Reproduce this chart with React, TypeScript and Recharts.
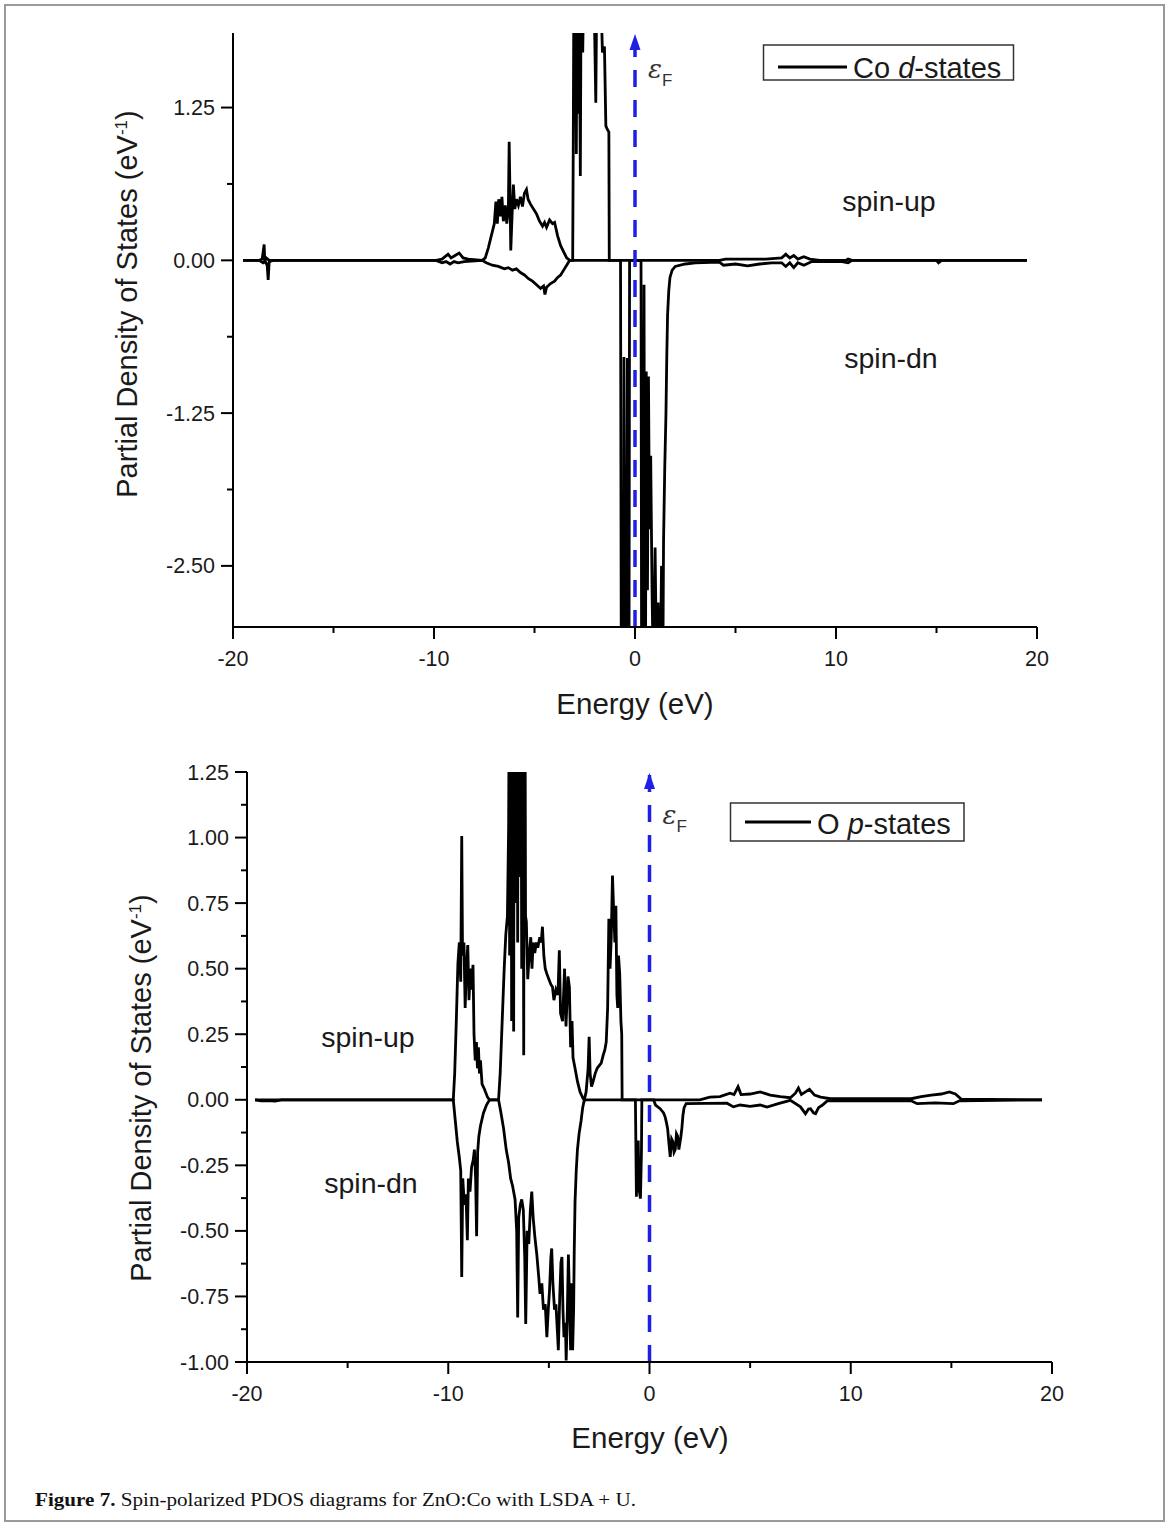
import React from 'react';
import { LineChart, Line, XAxis, YAxis, ReferenceLine } from 'recharts';

type P = [number, number];

// ---------- Panel 1: Co d-states (energy eV, PDOS) ----------
const coUp: P[] = [
  [-19.5, 0], [-18.7, 0], [-18.55, 0.01], [-18.45, 0.13], [-18.42, -0.01], [-18.35, 0.02], [-18.2, 0],
  [-9.9, 0], [-9.6, 0.01], [-9.45, 0.03], [-9.3, 0.05], [-9.15, 0.02], [-8.95, 0.04], [-8.75, 0.06], [-8.55, 0.02], [-8.3, 0.01], [-7.6, 0],
  [-7.45, 0.02], [-7.3, 0.1], [-7.15, 0.2], [-7.0, 0.3], [-6.92, 0.48], [-6.85, 0.3], [-6.78, 0.5], [-6.7, 0.36], [-6.62, 0.52],
  [-6.55, 0.32], [-6.45, 0.45], [-6.38, 0.3], [-6.3, 0.42], [-6.26, 0.97], [-6.22, 0.55], [-6.18, 0.08], [-6.12, 0.35], [-6.05, 0.62],
  [-5.98, 0.42], [-5.9, 0.5], [-5.8, 0.45], [-5.7, 0.52], [-5.6, 0.44], [-5.5, 0.55], [-5.4, 0.58], [-5.32, 0.5], [-5.2, 0.46],
  [-5.05, 0.42], [-4.9, 0.38], [-4.75, 0.32], [-4.6, 0.28], [-4.5, 0.31], [-4.4, 0.27], [-4.25, 0.33], [-4.1, 0.3], [-4.0, 0.31],
  [-3.85, 0.2], [-3.7, 0.12], [-3.55, 0.07], [-3.4, 0.02], [-3.25, 0],
  [-3.1, 0], [-3.07, 1.0], [-3.04, 2.3], [-3.0, 1.3], [-2.96, 2.3], [-2.92, 0.87], [-2.88, 2.3], [-2.82, 1.2], [-2.78, 2.3],
  [-2.72, 0.69], [-2.68, 2.3], [-2.6, 1.7], [-2.55, 2.3], [-2.45, 2.1], [-2.38, 2.3], [-2.28, 2.3], [-2.2, 1.9], [-2.15, 2.3],
  [-2.05, 2.3], [-1.95, 1.29], [-1.9, 2.3], [-1.82, 1.95], [-1.72, 2.3], [-1.62, 1.7], [-1.52, 1.75], [-1.45, 1.1], [-1.4, 1.08],
  [-1.3, 1.05], [-1.28, 0],
  [4.2, 0], [4.5, 0.01], [5.5, 0.01], [6.5, 0.01], [7.3, 0.02], [7.5, 0.05], [7.7, 0.02], [7.9, 0.04], [8.1, 0.01], [8.4, 0.03],
  [8.7, 0.01], [9.2, 0], [10.5, 0], [10.6, 0.01], [10.8, 0], [19.5, 0],
];

const coDn: P[] = [
  [-19.5, 0], [-18.7, 0], [-18.5, -0.02], [-18.4, -0.01], [-18.3, -0.04], [-18.25, -0.16], [-18.2, -0.01], [-18.0, 0],
  [-9.9, 0], [-9.6, -0.02], [-9.4, -0.01], [-9.2, -0.03], [-9.0, -0.01], [-8.8, -0.02], [-8.5, -0.01], [-7.6, 0],
  [-7.4, -0.02], [-7.1, -0.04], [-6.8, -0.05], [-6.5, -0.07], [-6.3, -0.06], [-6.1, -0.08], [-5.9, -0.07], [-5.7, -0.1],
  [-5.5, -0.12], [-5.3, -0.15], [-5.1, -0.17], [-4.9, -0.2], [-4.7, -0.23], [-4.55, -0.21], [-4.48, -0.28], [-4.4, -0.22],
  [-4.2, -0.19], [-4.0, -0.17], [-3.85, -0.14], [-3.7, -0.12], [-3.55, -0.08], [-3.4, -0.04], [-3.25, 0],
  [-0.72, 0], [-0.68, -3.5], [-0.64, -3.5], [-0.6, -1.9], [-0.57, -3.5], [-0.55, -0.79], [-0.5, -3.5], [-0.42, -3.5], [-0.38, -0.8],
  [-0.35, -3.5], [-0.3, -3.5], [-0.27, 0],
  [0.3, 0], [0.33, -3.5], [0.4, -3.5], [0.45, -0.2], [0.48, -3.5], [0.52, -3.5], [0.56, -0.91], [0.62, -2.7], [0.67, -0.95],
  [0.72, -2.2], [0.78, -1.6], [0.85, -2.73], [0.92, -3.5], [1.0, -2.35], [1.08, -3.5], [1.15, -2.8], [1.25, -3.5], [1.32, -2.5],
  [1.38, -3.5], [1.42, -2.3], [1.48, -1.7], [1.54, -1.26], [1.58, -0.8], [1.62, -0.45], [1.68, -0.25], [1.74, -0.14], [1.85, -0.08],
  [2.0, -0.05], [2.5, -0.03], [3.0, -0.02], [4.2, -0.015], [4.4, -0.04], [5.0, -0.03], [5.6, -0.045], [6.2, -0.03], [6.8, -0.02],
  [7.3, -0.02], [7.5, -0.05], [7.7, -0.02], [7.9, -0.06], [8.1, -0.02], [8.4, -0.04], [8.8, -0.01], [10.3, -0.01], [10.6, -0.02],
  [10.8, 0], [15.0, 0], [15.1, -0.02], [15.25, 0], [19.5, 0],
];

// ---------- Panel 2: O p-states ----------
const oUp: P[] = [
  [-19.6, 0], [-19.3, -0.004], [-19.0, -0.003], [-18.6, -0.005], [-18.3, 0],
  [-9.75, 0], [-9.68, 0.1], [-9.6, 0.3], [-9.52, 0.52], [-9.45, 0.6], [-9.38, 0.45], [-9.33, 1.006], [-9.29, 0.55], [-9.22, 0.6],
  [-9.16, 0.35], [-9.1, 0.5], [-9.03, 0.59], [-8.97, 0.38], [-8.9, 0.5], [-8.84, 0.42], [-8.77, 0.515], [-8.72, 0.25], [-8.66, 0.15],
  [-8.6, 0.22], [-8.55, 0.12], [-8.5, 0.2], [-8.45, 0.1], [-8.4, 0.15], [-8.32, 0.06], [-8.2, 0.04], [-8.05, 0.01], [-7.95, 0],
  [-7.5, 0], [-7.42, 0.1], [-7.32, 0.3], [-7.22, 0.5], [-7.14, 0.63], [-7.06, 0.7], [-7.0, 1.04], [-6.98, 1.4], [-6.95, 0.55],
  [-6.93, 1.4], [-6.9, 0.8], [-6.88, 1.4], [-6.85, 0.3], [-6.83, 1.4], [-6.8, 0.9], [-6.78, 1.4], [-6.75, 0.26], [-6.73, 1.4],
  [-6.7, 1.0], [-6.68, 1.4], [-6.65, 0.75], [-6.63, 1.4], [-6.6, 0.9], [-6.58, 1.4], [-6.55, 0.6], [-6.53, 1.4], [-6.5, 1.1],
  [-6.48, 1.4], [-6.45, 0.85], [-6.43, 1.4], [-6.4, 0.95], [-6.38, 1.4], [-6.35, 0.5], [-6.33, 1.4], [-6.3, 1.0], [-6.28, 1.4],
  [-6.25, 0.17], [-6.23, 1.4], [-6.2, 0.9], [-6.18, 1.4], [-6.16, 0.7],
  [-6.12, 0.68], [-6.05, 0.46], [-5.98, 0.55], [-5.9, 0.62], [-5.84, 0.5], [-5.78, 0.6], [-5.7, 0.56], [-5.62, 0.6], [-5.55, 0.58],
  [-5.45, 0.62], [-5.38, 0.6], [-5.32, 0.66], [-5.25, 0.55], [-5.18, 0.5], [-5.1, 0.48], [-5.0, 0.46], [-4.9, 0.44], [-4.82, 0.43],
  [-4.75, 0.38], [-4.65, 0.42], [-4.55, 0.4], [-4.48, 0.57], [-4.42, 0.33], [-4.32, 0.3], [-4.22, 0.5], [-4.15, 0.28], [-4.05, 0.47],
  [-3.98, 0.43], [-3.92, 0.2], [-3.85, 0.3], [-3.8, 0.16], [-3.7, 0.12], [-3.58, 0.07], [-3.45, 0.03], [-3.3, 0.005], [-3.24, 0],
  [-3.15, 0.03], [-3.05, 0.12], [-3.0, 0.24], [-2.95, 0.1], [-2.88, 0.05], [-2.8, 0.07], [-2.7, 0.1], [-2.6, 0.12], [-2.5, 0.13],
  [-2.4, 0.14], [-2.3, 0.17], [-2.22, 0.19], [-2.15, 0.22], [-2.08, 0.35], [-2.02, 0.69], [-1.96, 0.5], [-1.9, 0.62], [-1.84, 0.855],
  [-1.78, 0.72], [-1.72, 0.6], [-1.67, 0.74], [-1.62, 0.4], [-1.58, 0.35], [-1.54, 0.55], [-1.48, 0.48], [-1.42, 0.3], [-1.38, 0.25],
  [-1.36, 0],
  [2.5, 0], [3.0, 0.01], [3.5, 0.012], [4.0, 0.025], [4.2, 0.02], [4.4, 0.05], [4.55, 0.02], [5.0, 0.022], [5.5, 0.03], [6.0, 0.018],
  [6.5, 0.012], [7.0, 0.008], [7.25, 0.025], [7.4, 0.045], [7.55, 0.02], [7.75, 0.03], [7.95, 0.04], [8.2, 0.018], [8.5, 0.01],
  [9.0, 0.004], [13.0, 0.004], [13.5, 0.012], [14.0, 0.018], [14.5, 0.022], [14.9, 0.03], [15.2, 0.022], [15.5, 0.002], [19.5, 0],
];

const oDn: P[] = [
  [-19.6, 0], [-9.75, 0], [-9.65, -0.08], [-9.55, -0.16], [-9.45, -0.22], [-9.38, -0.27], [-9.33, -0.676], [-9.28, -0.3], [-9.2, -0.4],
  [-9.12, -0.36], [-9.05, -0.536], [-9.0, -0.3], [-8.92, -0.35], [-8.84, -0.256], [-8.76, -0.23], [-8.7, -0.19], [-8.64, -0.3],
  [-8.59, -0.52], [-8.54, -0.2], [-8.48, -0.14], [-8.4, -0.1], [-8.25, -0.05], [-8.1, -0.02], [-7.95, 0],
  [-7.5, 0], [-7.38, -0.05], [-7.25, -0.11], [-7.12, -0.19], [-7.0, -0.24], [-6.9, -0.3], [-6.8, -0.33], [-6.68, -0.38], [-6.6, -0.5],
  [-6.55, -0.83], [-6.5, -0.45], [-6.42, -0.4], [-6.35, -0.38], [-6.27, -0.42], [-6.2, -0.6], [-6.15, -0.855], [-6.08, -0.5],
  [-6.0, -0.55], [-5.92, -0.42], [-5.85, -0.35], [-5.78, -0.45], [-5.7, -0.52], [-5.6, -0.59], [-5.5, -0.68], [-5.44, -0.74],
  [-5.35, -0.7], [-5.27, -0.8], [-5.18, -0.78], [-5.1, -0.905], [-5.03, -0.8], [-4.97, -0.73], [-4.9, -0.6], [-4.86, -0.567],
  [-4.8, -0.7], [-4.72, -0.8], [-4.65, -0.78], [-4.58, -0.88], [-4.53, -0.955], [-4.46, -0.75], [-4.4, -0.62], [-4.35, -0.6],
  [-4.3, -0.8], [-4.25, -0.905], [-4.18, -0.85], [-4.14, -0.994], [-4.08, -0.8], [-4.03, -0.59], [-3.98, -0.75], [-3.92, -0.955],
  [-3.87, -0.7], [-3.82, -0.955], [-3.77, -0.8], [-3.74, -0.58], [-3.7, -0.39], [-3.64, -0.27], [-3.58, -0.19], [-3.5, -0.13],
  [-3.4, -0.08], [-3.32, -0.03], [-3.24, 0],
  [-0.7, 0], [-0.65, -0.37], [-0.6, -0.22], [-0.56, -0.155], [-0.52, -0.34], [-0.45, -0.377], [-0.4, -0.2], [-0.38, 0],
  [0.2, 0], [0.3, -0.02], [0.53, -0.034], [0.7, -0.05], [0.78, -0.066], [0.85, -0.09], [0.9, -0.11], [0.97, -0.17], [1.03, -0.218],
  [1.1, -0.15], [1.16, -0.16], [1.22, -0.2], [1.28, -0.19], [1.34, -0.13], [1.4, -0.14], [1.46, -0.19], [1.5, -0.17], [1.56, -0.14],
  [1.61, -0.107], [1.66, -0.06], [1.72, -0.03], [1.82, -0.015], [3.85, -0.013], [4.17, -0.027], [4.5, -0.02], [5.0, -0.025],
  [5.5, -0.02], [5.84, -0.028], [6.4, -0.015], [7.0, -0.002], [7.5, -0.027], [7.75, -0.053], [7.9, -0.035], [8.0, -0.034],
  [8.15, -0.05], [8.25, -0.053], [8.4, -0.03], [8.58, -0.021], [8.83, -0.004], [13.0, -0.004], [13.3, -0.015], [14.2, -0.012],
  [15.1, -0.015], [15.4, -0.004], [19.5, 0],
];

// ---------- ticks ----------
const xMajor = [-20, -10, 0, 10, 20];
const xMinor = [-15, -5, 5, 15];
const yMajorTop = [-2.5, -1.25, 0, 1.25];
const yMinorTop = [-1.875, -0.625, 0.625];
const yMajorBot = [-1, -0.75, -0.5, -0.25, 0, 0.25, 0.5, 0.75, 1, 1.25];
const yMinorBot = [-0.875, -0.625, -0.375, -0.125, 0.125, 0.375, 0.625, 0.875, 1.125];

const toPts = (a: P[]) => a.map(([e, v]) => ({ e, v }));
const merge = (a: number[], b: number[]) => [...a, ...b].sort((p, q) => p - q);
const isIn = (arr: number[], v: number) => arr.some((t) => Math.abs(t - v) < 1e-6);

const SANS = "'Liberation Sans', Arial, sans-serif";
const INK = '#1a1a1a';

const makeXTick = (majors: number[]) => (p: any) => {
  const { x, y, payload } = p;
  const major = isIn(majors, payload.value);
  return (
    <g>
      <line x1={x} x2={x} y1={y} y2={y + (major ? 12 : 6)} stroke="#000" strokeWidth={2} />
      {major && (
        <text x={x} y={y + 39} textAnchor="middle" fontSize={21.5} fontFamily={SANS} fill={INK}>
          {String(payload.value)}
        </text>
      )}
    </g>
  );
};

const makeYTick = (majors: number[]) => (p: any) => {
  const { x, y, payload } = p;
  const major = isIn(majors, payload.value);
  return (
    <g>
      <line x1={x - (major ? 12 : 6)} x2={x} y1={y} y2={y} stroke="#000" strokeWidth={2} />
      {major && (
        <text x={x - 18} y={y + 7.5} textAnchor="end" fontSize={21.5} fontFamily={SANS} fill={INK}>
          {Number(payload.value).toFixed(2)}
        </text>
      )}
    </g>
  );
};

const makeArrow = (epsDy: number) => (p: any) => {
  const vb = p.viewBox || {};
  const x = vb.x ?? 0;
  const y = vb.y ?? 0;
  return (
    <g>
      <polygon points={`${x},${y + 1} ${x - 5.5},${y + 17} ${x + 5.5},${y + 17}`} fill="#1f1fe6" />
      <text x={x + 13} y={y + epsDy} fontSize={26} fontStyle="italic" fontFamily="'DejaVu Serif', serif" fill="#333">
        ε
      </text>
      <text x={x + 27} y={y + epsDy + 8} fontSize={17} fontFamily={SANS} fill="#333">
        F
      </text>
    </g>
  );
};

interface PanelProps {
  top: number;
  height: number;
  margin: { top: number; right: number; bottom: number; left: number };
  up: P[];
  dn: P[];
  yDomain: [number, number];
  yMajor: number[];
  yMinor: number[];
  epsDy: number;
}

const Panel = ({ top, height, margin, up, dn, yDomain, yMajor, yMinor, epsDy }: PanelProps) => (
  <div style={{ position: 'absolute', left: 0, top }}>
    <LineChart width={1170} height={height} margin={margin}>
      <XAxis
        type="number"
        dataKey="e"
        domain={[-20, 20]}
        allowDataOverflow
        ticks={merge(xMajor, xMinor)}
        interval={0}
        tickSize={0}
        tickMargin={0}
        tickLine={false}
        height={30}
        axisLine={{ stroke: '#000', strokeWidth: 2 }}
        tick={makeXTick(xMajor)}
      />
      <YAxis
        type="number"
        domain={yDomain}
        allowDataOverflow
        ticks={merge(yMajor, yMinor)}
        interval={0}
        tickSize={0}
        tickMargin={0}
        tickLine={false}
        width={60}
        axisLine={{ stroke: '#000', strokeWidth: 2 }}
        tick={makeYTick(yMajor)}
      />
      <Line data={toPts(up)} dataKey="v" type="linear" stroke="#000" strokeWidth={2.8} dot={false} isAnimationActive={false} />
      <Line data={toPts(dn)} dataKey="v" type="linear" stroke="#000" strokeWidth={2.8} dot={false} isAnimationActive={false} />
      <ReferenceLine
        x={0}
        stroke="#1f1fe6"
        strokeWidth={3.5}
        strokeDasharray="17 13"
        label={makeArrow(epsDy)}
      />
    </LineChart>
  </div>
);

export default function App() {
  return (
    <div style={{ position: 'absolute', left: 0, top: 0, width: 1170, height: 1526, background: '#fff' }}>
      <Panel
        top={0}
        height={700}
        margin={{ top: 33, right: 133, bottom: 43, left: 173 }}
        up={coUp}
        dn={coDn}
        yDomain={[-3, 1.86]}
        yMajor={yMajorTop}
        yMinor={yMinorTop}
        epsDy={45}
      />
      <Panel
        top={700}
        height={720}
        margin={{ top: 72, right: 118, bottom: 28, left: 187 }}
        up={oUp}
        dn={oDn}
        yDomain={[-1, 1.25]}
        yMajor={yMajorBot}
        yMinor={yMinorBot}
        epsDy={52}
      />
      <svg width={1170} height={1526} style={{ position: 'absolute', left: 0, top: 0, pointerEvents: 'none' }}>
        <rect x={5} y={5} width={1159} height={1516} fill="none" stroke="#9a9a9a" strokeWidth={2} />
        {/* axis titles */}
        <text x={635} y={714} textAnchor="middle" fontSize={29.5} fontFamily={SANS} fill={INK}>Energy (eV)</text>
        <text x={650} y={1448} textAnchor="middle" fontSize={29.5} fontFamily={SANS} fill={INK}>Energy (eV)</text>
        <text transform="translate(137,304) rotate(-90)" textAnchor="middle" fontSize={29} fontFamily={SANS} fill={INK}>
          Partial Density of States (eV<tspan dy={-10} fontSize={17}>-1</tspan><tspan dy={10}>)</tspan>
        </text>
        <text transform="translate(151,1088) rotate(-90)" textAnchor="middle" fontSize={29} fontFamily={SANS} fill={INK}>
          Partial Density of States (eV<tspan dy={-10} fontSize={17}>-1</tspan><tspan dy={10}>)</tspan>
        </text>
        {/* annotations */}
        <text x={889} y={211} textAnchor="middle" fontSize={28.5} fontFamily={SANS} fill={INK}>spin-up</text>
        <text x={891} y={368} textAnchor="middle" fontSize={28.5} fontFamily={SANS} fill={INK}>spin-dn</text>
        <text x={368} y={1047} textAnchor="middle" fontSize={28.5} fontFamily={SANS} fill={INK}>spin-up</text>
        <text x={371} y={1193} textAnchor="middle" fontSize={28.5} fontFamily={SANS} fill={INK}>spin-dn</text>
        {/* legends */}
        <rect x={763.5} y={45} width={250} height={35} fill="#fff" stroke="#333" strokeWidth={1.5} />
        <line x1={778} x2={847} y1={67} y2={67} stroke="#000" strokeWidth={2.8} />
        <text x={853} y={78} fontSize={29} fontFamily={SANS} fill={INK}>
          Co <tspan fontStyle="italic">d</tspan>-states
        </text>
        <rect x={730.5} y={803} width={233.5} height={38} fill="#fff" stroke="#333" strokeWidth={1.5} />
        <line x1={745} x2={811} y1={822} y2={822} stroke="#000" strokeWidth={2.8} />
        <text x={817} y={834} fontSize={29} fontFamily={SANS} fill={INK}>
          O <tspan fontStyle="italic">p</tspan>-states
        </text>
        {/* caption */}
        <text x={35} y={1506} fontSize={19} fontFamily="'Liberation Serif', 'Times New Roman', serif" fill="#111" textLength={601} lengthAdjust="spacingAndGlyphs">
          <tspan fontWeight="bold">Figure 7.</tspan> Spin-polarized PDOS diagrams for ZnO:Co with LSDA + U.
        </text>
      </svg>
    </div>
  );
}
